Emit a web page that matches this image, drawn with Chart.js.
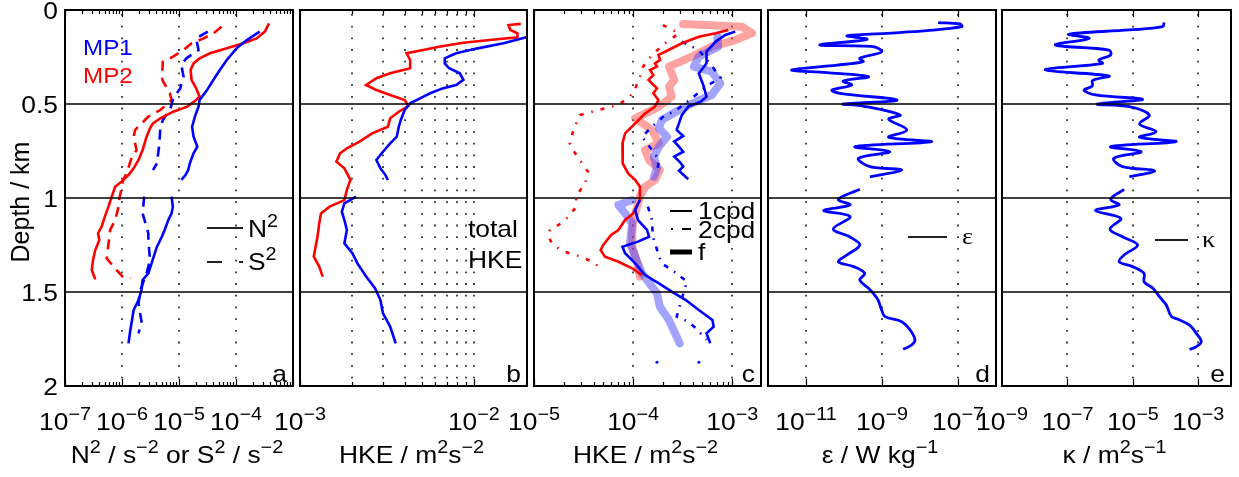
<!DOCTYPE html>
<html>
<head>
<meta charset="utf-8">
<script src="https://cdn.jsdelivr.net/npm/chart.js@4.4.0/dist/chart.umd.min.js"></script>
<style>
  body { margin: 0; background: #fff; }
  #wrap { position: relative; width: 1239px; height: 477px; }
  #wrap canvas { position: absolute; left: 0; top: 0; }
</style>
</head>
<body>
<div id="wrap">
  <canvas id="pa" width="1239" height="477"></canvas>
  <canvas id="pb" width="1239" height="477"></canvas>
  <canvas id="pc" width="1239" height="477"></canvas>
  <canvas id="pd" width="1239" height="477"></canvas>
  <canvas id="pe" width="1239" height="477"></canvas>
</div>
<script>
// ---- profiles (depth in km) ----
// a: stratification N^2 and shear S^2
const n2Mp1Depth = [0.115, 0.16, 0.204, 0.266, 0.319, 0.372, 0.426, 0.479, 0.514, 0.567, 0.621, 0.674, 0.727, 0.762, 0.816, 0.851, 0.878, 0.904, 0.95, 0.993, 1.046, 1.082, 1.117, 1.17, 1.206, 1.259, 1.348, 1.401, 1.436, 1.489, 1.543, 1.596, 1.649, 1.702, 1.773];
const n2Mp1 = [2.6e-4, 1.55e-4, 1.02e-4, 6.9e-5, 5.2e-5, 4.0e-5, 3.1e-5, 2.3e-5, 2.2e-5, 1.9e-5, 1.7e-5, 1.8e-5, 2.1e-5, 1.8e-5, 1.55e-5, 1.45e-5, 1.3e-5, 1.1e-5, null, 7.4e-6, 7.8e-6, 7.4e-6, 6.5e-6, 5.6e-6, 5.0e-6, 4.1e-6, 3.3e-6, 2.9e-6, 2.3e-6, 2.2e-6, 1.95e-6, 1.6e-6, 1.5e-6, 1.4e-6, 1.3e-6];
const n2Mp2Depth = [0.071, 0.115, 0.151, 0.177, 0.204, 0.23, 0.257, 0.284, 0.319, 0.372, 0.417, 0.461, 0.479, 0.514, 0.541, 0.576, 0.603, 0.629, 0.674, 0.745, 0.798, 0.842, 0.878, 0.913, 0.94, 0.993, 1.046, 1.099, 1.152, 1.188, 1.223, 1.277, 1.33, 1.383, 1.433];
const n2Mp2 = [3.8e-4, 3.2e-4, 2.3e-4, 1.35e-4, 6.9e-5, 3.5e-5, 2.3e-5, 1.8e-5, 1.6e-5, 1.66e-5, 2.0e-5, 2.3e-5, 2.0e-5, 1.4e-5, 7.9e-6, 4.7e-6, 3.5e-6, 3.1e-6, 2.7e-6, 2.3e-6, 1.95e-6, 1.6e-6, 1.3e-6, 9.8e-7, 7.6e-7, 6.6e-7, 5.8e-7, 5.0e-7, 4.4e-7, 3.8e-7, 4.0e-7, 3.4e-7, 3.1e-7, 2.95e-7, 3.4e-7];
const s2Mp1Depth = [0.115, 0.151, 0.213, 0.257, 0.293, 0.355, 0.417, 0.47, 0.523, 0.585, 0.629, 0.718, 0.816, 0.851, 0.92, 0.993, 1.082, 1.188, 1.223, 1.33, 1.401, 1.489, 1.56, 1.658, 1.72];
const s2Mp1 = [3.2e-5, 2.0e-5, 2.2e-5, 1.35e-5, 1.1e-5, 1.2e-5, 1.05e-5, 7.9e-6, 7.1e-6, 5.2e-6, 4.7e-6, 4.5e-6, 4.1e-6, 3.5e-6, null, 2.45e-6, 2.3e-6, 2.9e-6, 2.9e-6, 3.1e-6, 2.7e-6, 2.1e-6, 1.95e-6, 2.2e-6, 1.95e-6];
const s2Mp2Depth = [0.089, 0.124, 0.151, 0.177, 0.213, 0.248, 0.275, 0.328, 0.372, 0.443, 0.479, 0.532, 0.567, 0.638, 0.674, 0.745, 0.78, 0.869, 0.904, 1.011, 1.046, 1.117, 1.17, 1.321, 1.365, 1.422, 1.427];
const s2Mp2 = [5.6e-5, 4.0e-5, 2.7e-5, 1.66e-5, 1.2e-5, 7.9e-6, 5.2e-6, 5.1e-6, 5.1e-6, 6.9e-6, 7.4e-6, 4.7e-6, 2.9e-6, 1.7e-6, 1.6e-6, 1.8e-6, 1.5e-6, 1.2e-6, 1.05e-6, 8.9e-7, 8.7e-7, 7.6e-7, 6.2e-7, 5.4e-7, 7.1e-7, 1.05e-6, 1.4e-6];

// b: total HKE
const hkeMp1Depth = [0.135, 0.145, 0.177, 0.204, 0.23, 0.257, 0.284, 0.31, 0.337, 0.372, 0.399, 0.417, 0.443, 0.47, 0.496, 0.532, 0.585, 0.621, 0.674, 0.709, 0.754, 0.798, 0.842, 0.878, 0.904, 0.95, 0.993, 1.028, 1.073, 1.117, 1.17, 1.241, 1.294, 1.348, 1.418, 1.48, 1.543, 1.613, 1.684, 1.773];
const hkeMp1 = [0.026, 0.020, 0.0148, 0.0105, 0.0079, 0.0068, 0.0068, 0.0072, 0.0083, 0.0087, 0.0079, 0.0066, 0.0056, 0.0049, 0.0043, 0.0040, 0.0038, 0.0037, 0.0036, 0.0033, 0.0030, 0.00275, 0.0029, 0.0031, 0.0032, null, 0.0021, 0.0018, 0.00174, 0.0018, 0.00186, 0.0018, 0.0020, 0.00214, 0.0024, 0.0027, 0.0029, 0.0030, 0.0033, 0.00355];
const hkeMp2Depth = [0.074, 0.08, 0.106, 0.124, 0.145, 0.16, 0.174, 0.195, 0.213, 0.23, 0.266, 0.31, 0.337, 0.363, 0.399, 0.426, 0.452, 0.479, 0.511, 0.541, 0.576, 0.621, 0.656, 0.7, 0.736, 0.762, 0.807, 0.842, 0.904, 0.957, 1.011, 1.046, 1.082, 1.135, 1.206, 1.312, 1.365, 1.418];
const hkeMp2 = [0.0186, 0.0158, 0.0162, 0.0178, 0.0178, 0.0123, 0.0087, 0.0063, 0.0051, 0.0041, 0.0043, 0.0043, 0.0033, 0.00275, 0.0024, 0.00275, 0.0033, 0.0040, 0.0042, 0.0037, 0.0033, 0.0032, 0.0026, 0.0022, 0.00186, 0.0017, 0.00162, 0.0018, 0.00195, 0.00186, 0.0018, 0.00148, 0.00132, 0.00129, 0.00126, 0.0012, 0.00129, 0.00135];

// c: HKE in the diurnal (1cpd), semidiurnal (2cpd) and inertial (f) bands
const d1Mp1Depth = [0.115, 0.133, 0.168, 0.222, 0.284, 0.337, 0.399, 0.461, 0.488, 0.514, 0.559, 0.638, 0.67, 0.7, 0.727, 0.754, 0.78, 0.812, 0.833, 0.855, 0.9, 0.95, 1.011, 1.064, 1.117, 1.17, 1.206, 1.232, 1.259, 1.294, 1.348, 1.41, 1.454, 1.498, 1.543, 1.596, 1.649, 1.684, 1.72, 1.773];
const d1Mp1 = [1.07e-3, 8.5e-4, 6.8e-4, 5.5e-4, 5.5e-4, 4.6e-4, 5.1e-4, 5.5e-4, 4.8e-4, 3.6e-4, 3.1e-4, 2.75e-4, 3.2e-4, 2.6e-4, 2.9e-4, 3.2e-4, 2.6e-4, 3.0e-4, 3.2e-4, 2.9e-4, 3.6e-4, null, 1.17e-4, 1.05e-4, 1.12e-4, 1.38e-4, 1.45e-4, 1.12e-4, 7.8e-5, 8.3e-5, 1.05e-4, 1.32e-4, 1.82e-4, 2.45e-4, 3.4e-4, 4.6e-4, 6.3e-4, 6.5e-4, 5.5e-4, 6.0e-4];
const d1Mp2Depth = [0.106, 0.124, 0.142, 0.177, 0.222, 0.239, 0.266, 0.284, 0.301, 0.319, 0.346, 0.372, 0.39, 0.417, 0.443, 0.479, 0.514, 0.55, 0.603, 0.656, 0.709, 0.762, 0.816, 0.869, 0.904, 0.94, 1.011, 1.082, 1.117, 1.17, 1.197, 1.25, 1.277, 1.312, 1.339, 1.374, 1.41];
const d1Mp2 = [9.1e-4, 6.8e-4, 4.6e-4, 3.1e-4, 2.1e-4, 1.8e-4, 1.87e-4, 1.66e-4, 1.74e-4, 1.48e-4, 1.6e-4, 1.43e-4, 1.55e-4, 1.74e-4, 1.6e-4, 1.8e-4, 1.66e-4, 1.32e-4, 1.05e-4, 8.3e-5, 7.8e-5, 7.8e-5, 7.9e-5, 8.9e-5, 1.05e-4, 1.17e-4, 1.17e-4, 1.0e-4, 8.3e-5, 7.1e-5, 6.0e-5, 5.0e-5, 4.7e-5, 5.2e-5, 7.1e-5, 9.8e-5, 1.23e-4];
const d2Mp1Depth = [0.168, 0.213, 0.301, 0.36, 0.408, 0.47, 0.541, 0.559, 0.621, 0.674, 0.745, 0.798, 0.869, 0.95, 1.046, 1.117, 1.206, 1.321, 1.348, 1.392, 1.445, 1.534, 1.631, 1.658, 1.693, 1.755];
const d2Mp1 = [3.1e-4, 4.6e-4, 6.3e-4, 7.6e-4, 5.4e-4, 3.9e-4, 2.6e-4, 2.1e-4, 1.55e-4, 1.23e-4, 1.55e-4, 1.82e-4, 1.74e-4, null, 1.41e-4, 1.55e-4, 1.58e-4, 1.86e-4, 1.95e-4, 2.6e-4, 3.5e-4, 3.1e-4, 2.75e-4, 3.6e-4, 4.3e-4, 5.5e-4];
const d2Mp1DeepDepth = [1.874, 1.874];
const d2Mp1Deep = [1.74e-4, 4.6e-4];
const d2Mp2Depth = [0.08, 0.124, 0.177, 0.239, 0.301, 0.355, 0.417, 0.461, 0.505, 0.523, 0.559, 0.638, 0.709, 0.762, 0.86, 0.922, 0.984, 1.055, 1.126, 1.17, 1.206, 1.25, 1.285, 1.312, 1.348, 1.392];
const d2Mp2 = [2.0e-4, 2.9e-4, 2.1e-4, 1.55e-4, 1.26e-4, 1.17e-4, 1.05e-4, 9.3e-5, 7.1e-5, 5.2e-5, 2.9e-5, 2.5e-5, 2.3e-5, 2.6e-5, 3.5e-5, 3.3e-5, 2.7e-5, 2.6e-5, 2.0e-5, 1.45e-5, 1.4e-5, 1.55e-5, 2.0e-5, 3.0e-5, 4.2e-5, 4.7e-5];
const fMp1Depth = [0.142, 0.195, 0.248, 0.301, 0.328, 0.39, 0.452, 0.488, 0.532, 0.585, 0.629, 0.674, 0.727, 0.78, 0.842, 0.887, 0.95, 1.011, 1.037, 1.082, 1.135, 1.241, 1.312, 1.401, 1.507, 1.578, 1.649, 1.773];
const fMp1 = [7.1e-4, 7.2e-4, 4.6e-4, 4.1e-4, 6.2e-4, 7.6e-4, 6.2e-4, 4.3e-4, 2.9e-4, 1.95e-4, 1.82e-4, 2.2e-4, 1.82e-4, 1.62e-4, 1.74e-4, 1.62e-4, null, 9.8e-5, 7.1e-5, 8.3e-5, 9.8e-5, 9.3e-5, 1.05e-4, 1.23e-4, 1.74e-4, 1.86e-4, 2.3e-4, 2.95e-4];
const fMp2Depth = [0.075, 0.089, 0.124, 0.16, 0.195, 0.248, 0.301, 0.372, 0.408, 0.461, 0.514, 0.559, 0.576, 0.638, 0.709, 0.745, 0.798, 0.851, 0.904, 0.94, 0.993, 1.046, 1.117, 1.188, 1.259, 1.348, 1.418];
const fMp2 = [3.2e-4, 1.26e-3, 1.58e-3, 1.07e-3, 6.2e-4, 3.9e-4, 2.3e-4, 2.6e-4, 2.3e-4, 2.45e-4, 1.82e-4, 1.23e-4, 1.05e-4, 1.55e-4, 1.82e-4, 1.32e-4, 1.45e-4, 1.86e-4, 1.66e-4, 1.32e-4, 1.17e-4, 1.1e-4, 1.0e-4, 9.8e-5, 9.8e-5, 1.1e-4, 1.17e-4];

// d: dissipation rate epsilon, e: diffusivity kappa (MP1)
const epsDepth = [0.067, 0.074, 0.089, 0.11, 0.124, 0.137, 0.156, 0.186, 0.195, 0.222, 0.257, 0.275, 0.293, 0.319, 0.333, 0.355, 0.378, 0.399, 0.426, 0.443, 0.479, 0.5, 0.511, 0.559, 0.581, 0.638, 0.677, 0.7, 0.727, 0.754, 0.789, 0.833, 0.851, 0.887, 0.92, 0.954, 1.007, 1.037, 1.067, 1.099, 1.165, 1.206, 1.25, 1.303, 1.339, 1.365, 1.401, 1.436, 1.48, 1.507, 1.543, 1.596, 1.631, 1.658, 1.702, 1.755, 1.782, 1.805];
const eps = [3.0e-8, 1.12e-7, 1.26e-7, 1.5e-8, 1.3e-9, 1.2e-10, 4.0e-10, 2.3e-11, 5.9e-10, 9.8e-10, 2.6e-10, 3.2e-10, 6.5e-11, 4.2e-12, 3.5e-11, 4.4e-10, 9.5e-11, 1.6e-10, 4.8e-11, 7.8e-11, 2.5e-9, 9.5e-11, 3.2e-10, 3.0e-9, 1.5e-9, 4.5e-9, 1.5e-9, 2.0e-8, 1.95e-10, 1.6e-9, 2.4e-10, 4.8e-10, 3.3e-9, 4.8e-10, null, 2.6e-10, 7.1e-11, 1.45e-10, 2.9e-11, 1.45e-10, 5.2e-11, 1.4e-10, 2.6e-10, 1.2e-10, 7.1e-11, 1.8e-10, 3.5e-10, 2.6e-10, 4.4e-10, 5.9e-10, 7.9e-10, 9.8e-10, 1.2e-9, 3.3e-9, 5.5e-9, 7.4e-9, 6.0e-9, 3.6e-9];
const kapDepth = [0.067, 0.089, 0.106, 0.129, 0.151, 0.186, 0.213, 0.239, 0.266, 0.284, 0.319, 0.351, 0.376, 0.404, 0.426, 0.452, 0.475, 0.5, 0.514, 0.559, 0.606, 0.647, 0.677, 0.7, 0.727, 0.754, 0.789, 0.833, 0.855, 0.887, 0.92, 0.954, 1.007, 1.037, 1.067, 1.108, 1.165, 1.206, 1.25, 1.303, 1.339, 1.365, 1.401, 1.445, 1.48, 1.525, 1.569, 1.628, 1.645, 1.676, 1.72, 1.764, 1.791, 1.805];
const kap = [9.1e-5, 8.1e-5, 7.8e-6, 1.1e-7, 4.6e-7, 4.3e-8, 1.86e-6, 2.1e-6, 9.1e-7, 1.17e-6, 2.1e-8, 1.86e-6, 5.8e-7, 5.8e-7, 3.2e-7, 7.2e-7, 2.0e-5, 8.1e-7, 7.8e-6, 3.2e-5, 1.6e-5, 5.1e-5, 1.6e-5, 2.1e-4, 2.1e-6, 1.8e-5, 2.6e-6, 4.8e-6, 4.6e-5, 7.8e-6, null, 5.4e-6, 2.1e-6, 3.8e-6, 7.2e-7, 4.3e-6, 2.0e-6, 4.8e-6, 1.4e-5, 5.4e-6, 3.8e-6, 9.8e-6, 2.2e-5, 2.2e-5, 4.1e-5, 6.5e-5, 1.05e-4, 1.48e-4, 2.4e-4, 5.4e-4, 8.7e-4, 1.23e-3, 8.7e-4, 5.4e-4];

// axes
const depthTicks = [0, 0.5, 1, 1.5, 2];
const depthLines = [0.5, 1, 1.5];
const ticksA = [1e-7, 1e-6, 1e-5, 1e-4];
const ticksB = [1e-3, 1e-2];
const ticksC = [1e-5, 1e-4, 1e-3];
const ticksD = [1e-11, 1e-9, 1e-7];
const ticksE = [1e-9, 1e-7, 1e-5, 1e-3];

const BLUE = '#0000ff', RED = '#ff0000';
const FONT = '"Liberation Sans", Arial, Helvetica, sans-serif';
const FS = 24;
const SX = 1.1;   // labels are set a little wide

function series(values, depths, style) {
  return Object.assign({
    data: values.map((v, i) => ({ x: v, y: depths[i] })),
    showLine: true, pointRadius: 0, borderWidth: 2.6, tension: 0, clip: 0
  }, style);
}

// text with superscript parts: [[text, isSup], ...], stretched by SX
function drawRich(ctx, parts, x, y, align, size, color, font) {
  const fam = font || FONT;
  const big = size + 'px ' + fam;
  const small = Math.round(size * 0.76) + 'px ' + fam;
  let w = 0;
  parts.forEach(([t, sup]) => { ctx.font = sup ? small : big; w += ctx.measureText(t).width * SX; });
  let cx = align === 'center' ? x - w / 2 : align === 'right' ? x - w : x;
  ctx.fillStyle = color || '#000';
  ctx.textAlign = 'left';
  ctx.textBaseline = 'alphabetic';
  parts.forEach(([t, sup]) => {
    ctx.font = sup ? small : big;
    ctx.save();
    ctx.translate(cx, sup ? y - size * 0.4 : y);
    ctx.scale(SX, 1);
    ctx.fillText(t, 0, 0);
    ctx.restore();
    cx += ctx.measureText(t).width * SX;
  });
}

function powLabel(v) {
  const e = Math.round(Math.log10(v));
  return [['10'], [(e < 0 ? '\u2212' : '') + Math.abs(e), true]];
}

function seg(ctx, x1, y1, x2, y2) {
  ctx.beginPath(); ctx.moveTo(x1, y1); ctx.lineTo(x2, y2); ctx.stroke();
}

const panelPlugin = {
  id: 'panel',
  beforeDatasetsDraw(chart, args, p) {
    const { ctx, chartArea: a, scales: { x } } = chart;
    ctx.save();
    ctx.strokeStyle = '#333';
    ctx.lineWidth = 1.8;
    ctx.setLineDash([1.8, 9.9]);
    p.grid.forEach(v => {
      const px = Math.round(x.getPixelForValue(v));
      seg(ctx, px, a.top + 4, px, a.bottom);
    });
    ctx.restore();
  },
  afterDatasetsDraw(chart, args, p) {
    const { ctx, chartArea: a, scales: { x, y } } = chart;
    ctx.save();
    ctx.strokeStyle = '#000';
    ctx.lineWidth = 1.4;
    depthLines.forEach(d => {
      const py = Math.round(y.getPixelForValue(d));
      seg(ctx, a.left, py, a.right, py);
    });

    // log ticks, inward on top and bottom
    ctx.lineWidth = 1.2;
    const tick = (v, len) => {
      const px = Math.round(x.getPixelForValue(v)) + 0.5;
      seg(ctx, px, a.top, px, a.top + len);
      seg(ctx, px, a.bottom, px, a.bottom - len);
    };
    p.major.forEach(v => tick(v, 7));
    if (p.minor) {
      for (let e = Math.floor(Math.log10(x.min)); e < Math.log10(x.max); e++) {
        for (let m = 2; m <= 9; m++) {
          const v = m * Math.pow(10, e);
          if (v > x.min && v < x.max) tick(v, 4);
        }
      }
    }
    ctx.lineWidth = 2;
    ctx.strokeRect(a.left, a.top, a.right - a.left, a.bottom - a.top);

    p.labels.forEach(v => drawRich(ctx, powLabel(v), x.getPixelForValue(v), 430, 'center', FS));
    drawRich(ctx, p.title, (a.left + a.right) / 2 - 2, 463, 'center', FS);
    drawRich(ctx, [[p.letter]], a.right - 6, 382, 'right', FS);

    if (p.depthAxis) {
      depthTicks.forEach(d => drawRich(ctx, [[String(d)]], 58, y.getPixelForValue(d) + 9, 'right', FS));
      ctx.save();
      ctx.font = '25px ' + FONT;
      ctx.fillStyle = '#000';
      ctx.translate(29, 202);
      ctx.rotate(-Math.PI / 2);
      ctx.textAlign = 'center';
      ctx.textBaseline = 'alphabetic';
      ctx.fillText('Depth / km', 0, 0);
      ctx.restore();
    }
    if (p.legend) p.legend(ctx);
    ctx.restore();
  }
};

function makePanel(id, left, right, min, max, opts, datasets) {
  return new Chart(document.getElementById(id), {
    type: 'scatter',
    data: { datasets },
    options: {
      responsive: false,
      animation: false,
      events: [],
      devicePixelRatio: 1,
      layout: { padding: { left: left, right: 1239 - right, top: 10, bottom: 91 } },
      scales: {
        x: { type: 'logarithmic', min, max, display: false },
        y: { type: 'linear', min: 0, max: 2, reverse: true, display: false }
      },
      plugins: { legend: { display: false }, tooltip: { enabled: false }, panel: opts }
    },
    plugins: [panelPlugin]
  });
}

// a
makePanel('pa', 65, 293, 1e-7, 1e-3, {
  grid: [1e-6, 1e-5, 1e-4], major: [1e-7, 1e-6, 1e-5, 1e-4, 1e-3], minor: true,
  labels: ticksA, letter: 'a', depthAxis: true,
  title: [['N'], ['2', true], [' / s'], ['\u22122', true], [' or S'], ['2', true], [' / s'], ['\u22122', true]],
  legend(ctx) {
    drawRich(ctx, [['MP1']], 83, 55, 'left', 22, BLUE);
    drawRich(ctx, [['MP2']], 83, 83, 'left', 22, RED);
    ctx.strokeStyle = '#222'; ctx.lineWidth = 2;
    seg(ctx, 207, 228, 243, 228);
    ctx.setLineDash([15, 17]); seg(ctx, 207, 262, 243, 262); ctx.setLineDash([]);
    drawRich(ctx, [['N'], ['2', true]], 248, 237, 'left', FS);
    drawRich(ctx, [['S'], ['2', true]], 248, 270, 'left', FS);
  }
}, [
  series(n2Mp1, n2Mp1Depth, { borderColor: BLUE }),
  series(n2Mp2, n2Mp2Depth, { borderColor: RED }),
  series(s2Mp1, s2Mp1Depth, { borderColor: BLUE, borderDash: [10, 7] }),
  series(s2Mp2, s2Mp2Depth, { borderColor: RED, borderDash: [10, 7] })
]);

// b
makePanel('pb', 300, 527, 1e-3, 2.02e-2, {
  grid: [2e-3, 3e-3, 4e-3, 5e-3, 6e-3, 7e-3, 8e-3, 9e-3, 1e-2], major: [1e-3, 1e-2], minor: true,
  labels: ticksB, letter: 'b',
  title: [['HKE / m'], ['2', true], ['s'], ['\u22122', true]],
  legend(ctx) {
    drawRich(ctx, [['total']], 468, 237, 'left', FS);
    drawRich(ctx, [['HKE']], 468, 268, 'left', FS);
  }
}, [
  series(hkeMp1, hkeMp1Depth, { borderColor: BLUE }),
  series(hkeMp2, hkeMp2Depth, { borderColor: RED })
]);

// c
makePanel('pc', 534, 761, 1e-5, 1.95e-3, {
  grid: [1e-4, 1e-3], major: [1e-5, 1e-4, 1e-3], minor: true,
  labels: ticksC, letter: 'c',
  title: [['HKE / m'], ['2', true], ['s'], ['\u22122', true]],
  legend(ctx) {
    ctx.strokeStyle = '#000';
    ctx.lineWidth = 2; seg(ctx, 670, 211, 692, 211);
    seg(ctx, 682, 229, 691, 229); seg(ctx, 671, 229, 673, 229);
    ctx.lineWidth = 5; seg(ctx, 670, 252, 692, 252);
    drawRich(ctx, [['1cpd']], 698, 219, 'left', FS);
    drawRich(ctx, [['2cpd']], 698, 238, 'left', FS);
    drawRich(ctx, [['f']], 698, 260, 'left', FS);
  }
}, [
  series(d1Mp1, d1Mp1Depth, { borderColor: BLUE }),
  series(d1Mp2, d1Mp2Depth, { borderColor: RED }),
  series(d2Mp1, d2Mp1Depth, { borderColor: BLUE, borderDash: [5, 7, 1.5, 7] }),
  series(d2Mp1Deep, d2Mp1DeepDepth, { showLine: false, pointRadius: 1.5, backgroundColor: BLUE, borderWidth: 0 }),
  series(d2Mp2, d2Mp2Depth, { borderColor: RED, borderDash: [4, 8, 1.5, 8] }),
  series(fMp1, fMp1Depth, { borderColor: 'rgba(70,70,255,0.5)', borderWidth: 8, borderJoinStyle: 'round', borderCapStyle: 'round' }),
  series(fMp2, fMp2Depth, { borderColor: 'rgba(255,70,70,0.5)', borderWidth: 8, borderJoinStyle: 'round', borderCapStyle: 'round' })
]);

// d
makePanel('pd', 768, 996, 1e-12, 1e-6, {
  grid: [1e-11, 1e-9, 1e-7], major: [1e-11, 1e-9, 1e-7], minor: false,
  labels: ticksD, letter: 'd',
  title: [['\u03b5 / W kg'], ['\u22121', true]],
  legend(ctx) {
    ctx.strokeStyle = '#222'; ctx.lineWidth = 2; seg(ctx, 908, 237, 947, 237);
    drawRich(ctx, [['\u03b5']], 962, 244, 'left', 24, '#000', '"Liberation Serif", serif');
  }
}, [
  series(eps, epsDepth, { borderColor: BLUE, borderWidth: 2.8, tension: 0.35 })
]);

// e
makePanel('pe', 1002, 1231, 1e-9, 1e-2, {
  grid: [1e-7, 1e-5, 1e-3], major: [1e-7, 1e-5, 1e-3], minor: false,
  labels: ticksE, letter: 'e',
  title: [['\u03ba / m'], ['2', true], ['s'], ['\u22121', true]],
  legend(ctx) {
    ctx.strokeStyle = '#222'; ctx.lineWidth = 2; seg(ctx, 1155, 240, 1188, 240);
    drawRich(ctx, [['\u03ba']], 1202, 247, 'left', 24, '#000', '"Liberation Serif", serif');
  }
}, [
  series(kap, kapDepth, { borderColor: BLUE, borderWidth: 2.8, tension: 0.35 })
]);
</script>
</body>
</html>
